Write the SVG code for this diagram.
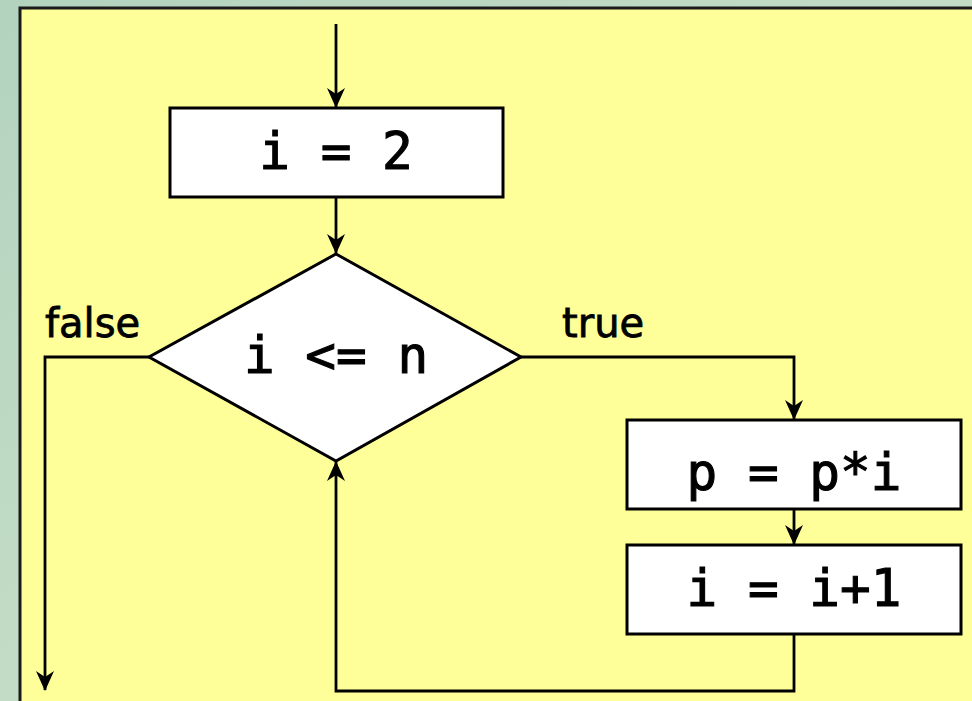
<svg xmlns="http://www.w3.org/2000/svg" width="972" height="701" viewBox="0 0 972 701">
<defs>
<linearGradient id="bg" x1="0" y1="0" x2="1" y2="1">
<stop offset="0" stop-color="#b3d3bf"/>
<stop offset="0.5" stop-color="#c3dcc6"/>
<stop offset="1" stop-color="#b6cfb4"/>
</linearGradient>
<marker id="arr" markerUnits="userSpaceOnUse" markerWidth="24" markerHeight="24" refX="19" refY="12" orient="auto" viewBox="0 0 24 24">
<path d="M0,3 L20,12 L0,21 L6,12 z" fill="#000"/>
</marker>
<style>
.box{fill:#fff;stroke:#000;stroke-width:3}
.code{font-family:"DejaVu Sans Mono","Liberation Mono",monospace;font-size:51px;fill:#000;stroke:#000;stroke-width:1.1;text-anchor:middle}
.lbl{font-family:"DejaVu Sans","Liberation Sans",sans-serif;font-size:40px;fill:#000;stroke:#000;stroke-width:0.8}
.con{fill:none;stroke:#000;stroke-width:2.8;marker-end:url(#arr)}
</style>
</defs>
<rect x="0" y="0" width="972" height="701" fill="url(#bg)"/>
<rect x="20" y="8" width="960" height="700" fill="#ffff99" stroke="#1a1a1a" stroke-width="3"/>
<g id="connectors">
<path class="con" d="M336,24 L336,107"/>
<path class="con" d="M336,197 L336,253"/>
<path class="con" d="M149,357 L45,357 L45,690"/>
<path class="con" d="M521,357 L794,357 L794,419"/>
<path class="con" d="M794,510 L794,544"/>
<path class="con" d="M794,634 L794,691 L336,691 L336,462"/>
</g>
<g id="init">
<rect class="box" x="170" y="108" width="333" height="89"/>
<text class="code" x="336" y="169">i = 2</text>
</g>
<g id="cond">
<polygon class="box" points="336,254 521,357 336,461 149,357"/>
<text class="code" x="336" y="373">i &lt;= n</text>
</g>
<g id="mult">
<rect class="box" x="627" y="420" width="334" height="89"/>
<text class="code" x="794" y="490">p = p*i</text>
</g>
<g id="incr">
<rect class="box" x="627" y="545" width="334" height="89"/>
<text class="code" x="794" y="606">i = i+1</text>
</g>
<g id="labels">
<text class="lbl" x="45" y="337">false</text>
<text class="lbl" x="562" y="337">true</text>
</g>
</svg>
